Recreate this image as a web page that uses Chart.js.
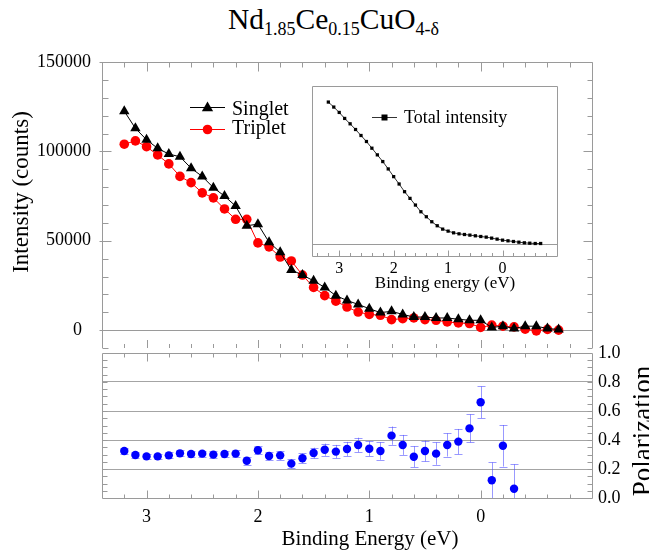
<!DOCTYPE html>
<html><head><meta charset="utf-8">
<script src="https://cdn.jsdelivr.net/npm/chart.js@4.4.1/dist/chart.umd.min.js"></script>
<style>
html,body{margin:0;padding:0;background:#fff;}
#wrap{position:relative;width:649px;height:554px;overflow:hidden;background:#fff;}
canvas{position:absolute;}
#title{position:absolute;left:9px;top:5px;width:649px;text-align:center;font-family:'Liberation Serif','Times New Roman',serif;font-size:29.5px;line-height:29px;color:#000;white-space:nowrap;}
#title sub{font-size:18px;vertical-align:-6px;line-height:0;}
</style></head>
<body>
<div id="wrap">
<div id="title">Nd<sub>1.85</sub>Ce<sub>0.15</sub>CuO<sub>4-δ</sub></div>
<canvas id="cTop" width="649" height="354" style="left:0;top:0"></canvas>
<canvas id="cBot" width="649" height="211" style="left:0;top:343px"></canvas>
<canvas id="cIns" width="262" height="215" style="left:300px;top:80px"></canvas>
</div>
<script>
const FONT = "'Liberation Serif', 'Times New Roman', serif";

// ---- data ----
const energy = [3.2,3.1,3.0,2.9,2.8,2.7,2.6,2.5,2.4,2.3,2.2,2.1,2.0,1.9,1.8,1.7,1.6,1.5,1.4,1.3,1.2,1.1,1.0,0.9,0.8,0.7,0.6,0.5,0.4,0.3,0.2,0.1,0.0,-0.1,-0.2,-0.3,-0.4,-0.5,-0.6,-0.7];
const singlet = [122500,112900,106500,101700,98500,97000,90600,86000,79700,75000,69400,58400,59300,49200,43600,33700,30800,27600,23900,19300,16600,14400,12000,9800,10500,8800,7300,7300,6800,6800,6100,5500,5500,1500,2200,900,2200,2200,900,400];
const triplet = [104000,105900,102600,98000,93000,86000,82500,76800,74000,67800,62000,62000,48800,46600,40900,38700,30800,23900,19300,16200,12900,10100,8800,8300,5900,6400,6800,5900,5500,4600,4000,3700,1500,2800,2200,1800,550,-400,400,0];
const totalIntensity = [226300,218300,209700,200100,191500,182400,172800,163200,152500,141800,131100,119300,107000,95200,82900,72200,61500,50800,42800,34800,28400,23000,19800,17100,15500,14400,13400,12300,11200,10200,8600,7000,5350,4300,3200,2100,1100,500,0,0];
const polEnergy = [3.2,3.1,3.0,2.9,2.8,2.7,2.6,2.5,2.4,2.3,2.2,2.1,2.0,1.9,1.8,1.7,1.6,1.5,1.4,1.3,1.2,1.1,1.0,0.9,0.8,0.7,0.6,0.5,0.4,0.3,0.2,0.1,0.0,-0.1,-0.2,-0.3];
const polarization = [0.324,0.297,0.287,0.287,0.294,0.308,0.303,0.306,0.299,0.303,0.306,0.257,0.329,0.290,0.294,0.237,0.274,0.310,0.333,0.320,0.338,0.366,0.340,0.324,0.430,0.366,0.285,0.324,0.306,0.366,0.389,0.480,0.660,0.122,0.360,0.064];
const polError = [0.018,0.018,0.019,0.019,0.020,0.020,0.021,0.021,0.022,0.023,0.024,0.026,0.027,0.028,0.029,0.032,0.034,0.037,0.042,0.046,0.049,0.050,0.052,0.060,0.063,0.069,0.072,0.072,0.077,0.080,0.087,0.097,0.109,0.123,0.143,0.168];
const energyTicks = [3,2,1,0];
const intensityTicks = [0,50000,100000,150000];
const polTicks = [0,0.2,0.4,0.6,0.8,1.0];
const axisTitles = {intensity:'Intensity (counts)', energy:'Binding Energy (eV)', pol:'Polarization', insetEnergy:'Binding energy (eV)'};

const AXIS = '#9a9a9a';
const GRID = '#a4a4a4';
Chart.defaults.font.family = FONT;
Chart.defaults.color = '#000';

function pts(xs, ys){ return xs.map((x,i)=>({x:x, y:ys[i]})); }
function c5(v){ return Math.round(v)+0.5; }
function noPad(s){ s.paddingTop=0; s.paddingBottom=0; s.paddingLeft=0; s.paddingRight=0; }

function tri(ctx, x, y, r){
  ctx.beginPath();
  for (let i=0;i<3;i++){ const a = -Math.PI/2 + i*2*Math.PI/3; const px=x+Math.cos(a)*r, py=y+Math.sin(a)*r; if(i===0) ctx.moveTo(px,py); else ctx.lineTo(px,py); }
  ctx.closePath(); ctx.fill();
}

// ---------- top panel ----------
const topPlugin = {
  id:'topDeco',
  beforeDatasetsDraw(chart){
    const {ctx, chartArea:a, scales:{x, y}} = chart;
    ctx.save();
    ctx.strokeStyle = AXIS; ctx.lineWidth = 1;
    const L=c5(a.left), R=c5(a.right), T=c5(a.top), B=Math.round(a.bottom);
    ctx.beginPath();
    ctx.moveTo(L,B); ctx.lineTo(L,T); ctx.lineTo(R,T); ctx.lineTo(R,B);
    const z = c5(y.getPixelForValue(0));
    ctx.moveTo(L,z); ctx.lineTo(R,z);
    for (let k=-4;k<=16;k++){
      const px = c5(x.getPixelForValue(k/5)); const maj = (k%5===0);
      ctx.moveTo(px,T); ctx.lineTo(px,T+(maj?9:5));
      ctx.moveTo(px,B); ctx.lineTo(px,B-(maj?8:4));
    }
    for (let k=-1;k<=15;k++){
      const py = c5(y.getPixelForValue(k*10000)); const maj = (k%5===0);
      ctx.moveTo(maj?L-3:L,py); ctx.lineTo(L+(maj?9:6),py);
      ctx.moveTo(R,py); ctx.lineTo(R-(maj?9:5),py);
    }
    ctx.stroke();
    ctx.restore();
  },
  afterDraw(chart){
    const {ctx} = chart;
    const ds = chart.data.datasets;
    ctx.save();
    ctx.lineWidth = 1;
    ctx.strokeStyle = ds[0].borderColor; ctx.fillStyle = ds[0].backgroundColor;
    ctx.beginPath(); ctx.moveTo(190,107.5); ctx.lineTo(225,107.5); ctx.stroke();
    tri(ctx, 207.5, 108, 6.5);
    ctx.strokeStyle = ds[1].borderColor; ctx.fillStyle = ds[1].backgroundColor;
    ctx.beginPath(); ctx.moveTo(190,129.5); ctx.lineTo(225,129.5); ctx.stroke();
    ctx.beginPath(); ctx.arc(207.5,129.5,4.8,0,Math.PI*2); ctx.fill();
    ctx.fillStyle = '#000';
    ctx.font = '20px ' + FONT; ctx.textAlign='left'; ctx.textBaseline='alphabetic';
    ctx.fillText(ds[0].label, 232, 115);
    ctx.fillText(ds[1].label, 232, 134);
    ctx.font = '23px ' + FONT;
    ctx.translate(28, 192); ctx.rotate(-Math.PI/2); ctx.textAlign='center';
    ctx.fillText(axisTitles.intensity, 0, 0);
    ctx.restore();
  }
};

new Chart(document.getElementById('cTop'), {
  type:'line',
  data:{datasets:[
    {label:'Singlet', data:pts(energy,singlet), borderColor:'#000000', backgroundColor:'#000000', borderWidth:1, pointStyle:'triangle', pointRadius:6, pointBorderWidth:0, tension:0},
    {label:'Triplet', data:pts(energy,triplet), borderColor:'#ff0000', backgroundColor:'#ff0000', borderWidth:1, pointStyle:'circle', pointRadius:4.8, pointBorderWidth:0, tension:0}
  ]},
  options:{
    responsive:false, animation:false, devicePixelRatio:1,
    layout:{padding:{top:62,left:0,right:57,bottom:1}},
    plugins:{legend:{display:false}, tooltip:{enabled:false}},
    scales:{
      x:{type:'linear', reverse:true, min:-1, max:3.4, display:false},
      y:{type:'linear', min:-10000, max:150000, position:'left',
        afterBuildTicks:s=>{ s.ticks = intensityTicks.map(v=>({value:v})); },
        afterFit:s=>{ s.width = 102; noPad(s); },
        grid:{display:false, drawTicks:false}, border:{display:false},
        ticks:{font:{family:FONT,size:18}, color:'#000', padding:11, callback:v=> v===0 ? '0  ' : String(v)}}
    }
  },
  plugins:[topPlugin]
});

// ---------- bottom panel ----------
const botPlugin = {
  id:'botDeco',
  beforeDatasetsDraw(chart){
    const {ctx, chartArea:a, scales:{x, y}} = chart;
    ctx.save();
    ctx.strokeStyle = AXIS; ctx.lineWidth = 1;
    const L=c5(a.left), R=c5(a.right), T=c5(a.top), B=c5(a.bottom);
    ctx.beginPath();
    ctx.rect(L,T,R-L,B-T);
    for (let k=-4;k<=16;k++){
      const px = c5(x.getPixelForValue(k/5)); const maj = (k%5===0);
      ctx.moveTo(px,T); ctx.lineTo(px,T+(maj?8:4));
      ctx.moveTo(px,B); ctx.lineTo(px,B-(maj?8:4));
    }
    for (let k=1;k<=19;k++){
      const py = c5(y.getPixelForValue(k*0.05));
      ctx.moveTo(L,py); ctx.lineTo(L+5,py);
      ctx.moveTo(R,py); ctx.lineTo(R-5,py);
    }
    ctx.stroke();
    ctx.strokeStyle = 'rgba(70,70,255,0.55)';
    ctx.beginPath();
    polEnergy.forEach((e,i)=>{
      const px = c5(x.getPixelForValue(e));
      const lo = polarization[i]-polError[i], hi = polarization[i]+polError[i];
      const yl = y.getPixelForValue(Math.max(0,lo)), yh = y.getPixelForValue(hi);
      ctx.moveTo(px,yl); ctx.lineTo(px,yh);
      ctx.moveTo(px-4,c5(yh)); ctx.lineTo(px+4,c5(yh));
      if (lo > 0){ ctx.moveTo(px-4,c5(yl)); ctx.lineTo(px+4,c5(yl)); }
    });
    ctx.stroke();
    ctx.restore();
  },
  afterDraw(chart){
    const {ctx} = chart;
    ctx.save();
    ctx.fillStyle='#000';
    ctx.font = '21px ' + FONT; ctx.textAlign='center'; ctx.textBaseline='alphabetic';
    ctx.fillText(axisTitles.energy, 370, 202);
    ctx.font = '27px ' + FONT;
    ctx.translate(651, 88); ctx.rotate(-Math.PI/2);
    ctx.fillText(axisTitles.pol, 0, 0);
    ctx.restore();
  }
};

new Chart(document.getElementById('cBot'), {
  type:'scatter',
  data:{datasets:[
    {label:'Polarization', data:pts(polEnergy,polarization), backgroundColor:'#0000ff', borderColor:'#0000ff', pointRadius:4.2, pointBorderWidth:0, showLine:false}
  ]},
  options:{
    responsive:false, animation:false, devicePixelRatio:1,
    layout:{padding:{top:10,left:102,right:0,bottom:0}},
    plugins:{legend:{display:false}, tooltip:{enabled:false}},
    scales:{
      x:{type:'linear', reverse:true, min:-1, max:3.4, position:'bottom',
        afterBuildTicks:s=>{ s.ticks = energyTicks.map(v=>({value:v})); },
        afterFit:s=>{ s.height = 56; noPad(s); },
        grid:{display:false, drawTicks:false}, border:{display:false},
        ticks:{font:{family:FONT,size:18}, color:'#000', padding:8, maxRotation:0, autoSkip:false}},
      y:{type:'linear', min:0, max:1, position:'right',
        afterBuildTicks:s=>{ s.ticks = polTicks.map(v=>({value:v})); },
        afterFit:s=>{ s.width = 57; noPad(s); },
        grid:{color:c=> (c.tick && c.tick.value>0.01 && c.tick.value<0.99) ? GRID : 'rgba(0,0,0,0)', drawTicks:false, lineWidth:1},
        border:{display:false},
        ticks:{font:{family:FONT,size:18}, color:'#000', padding:6, callback:v=>Number(v).toFixed(1)}}
    }
  },
  plugins:[botPlugin]
});

// ---------- inset ----------
const insPlugin = {
  id:'insDeco',
  beforeDraw(chart){
    const {ctx, chartArea:a} = chart;
    ctx.save(); ctx.fillStyle='#fff'; ctx.fillRect(a.left,a.top,a.right-a.left,a.bottom-a.top); ctx.restore();
  },
  beforeDatasetsDraw(chart){
    const {ctx, chartArea:a, scales:{x, y}} = chart;
    ctx.save();
    ctx.strokeStyle = AXIS; ctx.lineWidth = 1;
    const L=c5(a.left), R=c5(a.right), T=c5(a.top), B=c5(a.bottom);
    ctx.beginPath();
    ctx.rect(L,T,R-L,B-T);
    const z = c5(y.getPixelForValue(0));
    ctx.moveTo(L,z); ctx.lineTo(R,z);
    for (let k=-4;k<=17;k++){
      const px = c5(x.getPixelForValue(k/5)); const maj = (k%5===0);
      ctx.moveTo(px,B); ctx.lineTo(px,B-(maj?6:3.5));
    }
    ctx.stroke();
    ctx.restore();
  },
  afterDraw(chart){
    const {ctx} = chart;
    const ds = chart.data.datasets[0];
    ctx.save();
    ctx.strokeStyle = ds.borderColor; ctx.fillStyle = ds.backgroundColor; ctx.lineWidth=1;
    ctx.beginPath(); ctx.moveTo(72,37.5); ctx.lineTo(97,37.5); ctx.stroke();
    ctx.fillRect(81.5,34.5,6,6);
    ctx.fillStyle='#000';
    ctx.font='18px '+FONT; ctx.textAlign='left'; ctx.textBaseline='alphabetic';
    ctx.fillText(ds.label, 104, 43);
    ctx.font='17px '+FONT; ctx.textAlign='center';
    ctx.fillText(axisTitles.insetEnergy, 145, 208);
    ctx.restore();
  }
};

new Chart(document.getElementById('cIns'), {
  type:'line',
  data:{datasets:[
    {label:'Total intensity', data:pts(energy,totalIntensity), borderColor:'#333333', backgroundColor:'#000000', borderWidth:1, pointStyle:'rect', pointRadius:2.3, pointBorderWidth:0, tension:0}
  ]},
  options:{
    responsive:false, animation:false, devicePixelRatio:1,
    layout:{padding:{top:6,left:12,right:5,bottom:0}},
    plugins:{legend:{display:false}, tooltip:{enabled:false}},
    scales:{
      x:{type:'linear', reverse:true, min:-1, max:3.5, position:'bottom',
        afterBuildTicks:s=>{ s.ticks = energyTicks.map(v=>({value:v})); },
        afterFit:s=>{ s.height = 39; noPad(s); },
        grid:{display:false, drawTicks:false}, border:{display:false},
        ticks:{font:{family:FONT,size:16}, color:'#000', padding:3, maxRotation:0, autoSkip:false}},
      y:{type:'linear', min:-20000, max:252000, display:false}
    }
  },
  plugins:[insPlugin]
});
</script>
</body></html>
